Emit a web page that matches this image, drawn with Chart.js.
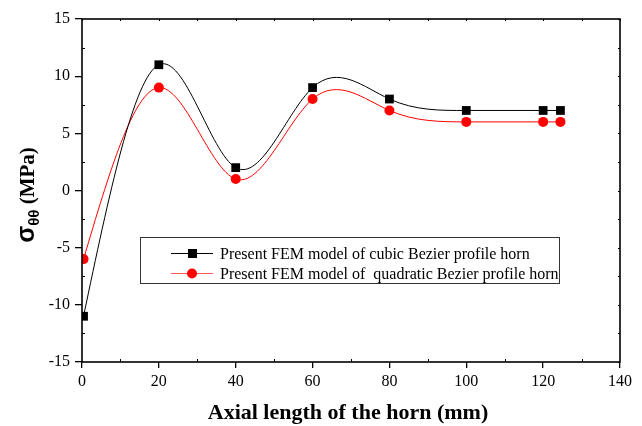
<!DOCTYPE html>
<html>
<head>
<meta charset="utf-8">
<script src="https://cdn.jsdelivr.net/npm/chart.js@4.4.1/dist/chart.umd.min.js"></script>
<style>
  html, body { margin: 0; padding: 0; background: #fff; }
  #wrap { width: 642px; height: 426px; position: relative; }
</style>
</head>
<body>
<div id="wrap"><canvas id="c" width="642" height="426"></canvas></div>
<script>
// Axial positions along the horn (mm)
const axialPos = [0.4, 20, 40, 60, 80, 100, 120, 124.5];
// Hoop stress sigma_theta_theta (MPa) for each profile
const cubicStress = [-11, 11, 2, 9, 8, 7, 7, 7];
const quadraticStress = [-6, 9, 1, 8, 7, 6, 6, 6];
const seriesNames = [
  'Present FEM model of cubic Bezier profile horn',
  'Present FEM model of  quadratic Bezier profile horn'
];
// Axis tick labels
const xTicks = [0, 20, 40, 60, 80, 100, 120, 140];
const yTicks = [-15, -10, -5, 0, 5, 10, 15];
const xTitle = 'Axial length of the horn (mm)';

const SERIF = '"Liberation Serif", "Times New Roman", serif';
const SANS = '"Liberation Sans", Arial, sans-serif';

// Natural cubic spline slopes at each knot (value space)
function splineSlopes(xs, ys) {
  const n = xs.length;
  const h = [], a = [], b = [], c = [], d = [];
  for (let i = 0; i < n - 1; i++) h.push(xs[i + 1] - xs[i]);
  for (let i = 0; i < n; i++) {
    if (i === 0 || i === n - 1) { a.push(0); b.push(1); c.push(0); d.push(0); continue; }
    a.push(h[i - 1]);
    b.push(2 * (h[i - 1] + h[i]));
    c.push(h[i]);
    d.push(6 * ((ys[i + 1] - ys[i]) / h[i] - (ys[i] - ys[i - 1]) / h[i - 1]));
  }
  // Thomas algorithm
  const cp = [], dp = [];
  cp[0] = c[0] / b[0]; dp[0] = d[0] / b[0];
  for (let i = 1; i < n; i++) {
    const m = b[i] - a[i] * cp[i - 1];
    cp[i] = c[i] / m;
    dp[i] = (d[i] - a[i] * dp[i - 1]) / m;
  }
  const M = new Array(n);
  M[n - 1] = dp[n - 1];
  for (let i = n - 2; i >= 0; i--) M[i] = dp[i] - cp[i] * M[i + 1];
  const s = [];
  for (let i = 0; i < n - 1; i++) {
    s.push((ys[i + 1] - ys[i]) / h[i] - h[i] * (2 * M[i] + M[i + 1]) / 6);
  }
  const k = n - 2;
  s.push((ys[k + 1] - ys[k]) / h[k] + h[k] * (M[k] + 2 * M[k + 1]) / 6);
  return s;
}

// Replace the default bezier handles with those of a natural cubic spline
const splinePlugin = {
  id: 'naturalSpline',
  beforeDatasetDraw(chart, args) {
    const meta = args.meta;
    const line = meta.dataset;
    if (!line) return;
    if (line.updateControlPoints) line.updateControlPoints(chart.chartArea, 'x');
    const ds = chart.data.datasets[args.index];
    const xs = ds.data.map(p => p.x);
    const ys = ds.data.map(p => p.y);
    const s = splineSlopes(xs, ys);
    const xS = chart.scales.x, yS = chart.scales.y;
    const pts = meta.data;
    for (let i = 0; i < pts.length; i++) {
      const p = pts[i];
      if (i > 0) {
        const h = xs[i] - xs[i - 1];
        p.cp1x = xS.getPixelForValue(xs[i] - h / 3);
        p.cp1y = yS.getPixelForValue(ys[i] - s[i] * h / 3);
      } else { p.cp1x = p.x; p.cp1y = p.y; }
      if (i < pts.length - 1) {
        const h = xs[i + 1] - xs[i];
        p.cp2x = xS.getPixelForValue(xs[i] + h / 3);
        p.cp2y = yS.getPixelForValue(ys[i] + s[i] * h / 3);
      } else { p.cp2x = p.x; p.cp2y = p.y; }
    }
    line._pointsUpdated = true;
    line._path = undefined;
  }
};

// Frame, minor ticks, axis titles and the boxed legend
const decorPlugin = {
  id: 'decor',
  afterDraw(chart) {
    const ctx = chart.ctx;
    const a = chart.chartArea;
    const xS = chart.scales.x, yS = chart.scales.y;
    ctx.save();
    ctx.strokeStyle = '#000';
    ctx.lineWidth = 1.6;
    ctx.strokeRect(a.left, a.top, a.right - a.left, a.bottom - a.top);

    ctx.lineWidth = 1;
    ctx.beginPath();
    for (let v = 10; v < 140; v += 20) {
      const x = Math.round(xS.getPixelForValue(v)) + 0.5;
      ctx.moveTo(x, a.bottom); ctx.lineTo(x, a.bottom - 3);
    }
    for (let v = 0; v <= 140; v += 10) {
      const x = Math.round(xS.getPixelForValue(v)) + 0.5;
      ctx.moveTo(x, a.top); ctx.lineTo(x, a.top + 2);
    }
    for (let v = -12.5; v < 15; v += 5) {
      const y = Math.round(yS.getPixelForValue(v)) + 0.5;
      ctx.moveTo(a.left, y); ctx.lineTo(a.left + 3, y);
    }
    for (let v = -15; v <= 15; v += 2.5) {
      const y = Math.round(yS.getPixelForValue(v)) + 0.5;
      ctx.moveTo(a.right, y); ctx.lineTo(a.right - 2, y);
    }
    ctx.stroke();

    // x title
    ctx.fillStyle = '#000';
    ctx.font = 'bold 22px ' + SERIF;
    ctx.textAlign = 'center';
    ctx.textBaseline = 'alphabetic';
    ctx.fillText(xTitle, 348, 419);

    // y title: sigma with theta-theta subscript, then units
    ctx.save();
    ctx.translate(34, 195);
    ctx.rotate(-Math.PI / 2);
    const f1 = 'bold 25px ' + SANS, f2 = 'bold 15px ' + SANS, f3 = 'bold 21px ' + SERIF;
    ctx.font = f1; const w1 = ctx.measureText('σ').width;
    ctx.font = f2; const w2 = ctx.measureText('θθ').width;
    ctx.font = f3; const w3 = ctx.measureText(' (MPa)').width;
    let x0 = -(w1 + w2 + w3) / 2;
    ctx.textAlign = 'left';
    ctx.font = f1; ctx.fillText('σ', x0, 0); x0 += w1;
    ctx.font = f2; ctx.fillText('θθ', x0, 5); x0 += w2;
    ctx.font = f3; ctx.fillText(' (MPa)', x0, 0);
    ctx.restore();

    // legend
    ctx.lineWidth = 1;
    ctx.strokeStyle = '#333';
    ctx.strokeRect(140.5, 237.5, 419, 46);
    const rows = [
      { y: 253.5, color: '#000', line: '#000', style: 'rect' },
      { y: 273.5, color: '#ff0000', line: '#ff5a5a', style: 'circle' }
    ];
    ctx.font = '16px ' + SERIF;
    ctx.textAlign = 'left';
    ctx.textBaseline = 'middle';
    rows.forEach((r, i) => {
      ctx.strokeStyle = r.line;
      ctx.beginPath(); ctx.moveTo(171, r.y); ctx.lineTo(213, r.y); ctx.stroke();
      ctx.fillStyle = r.color;
      if (r.style === 'rect') ctx.fillRect(188, r.y - 4.5, 9, 9);
      else { ctx.beginPath(); ctx.arc(192, r.y, 5, 0, Math.PI * 2); ctx.fill(); }
      ctx.fillStyle = '#000';
      ctx.fillText(seriesNames[i], 220, r.y + 1);
    });
    ctx.restore();
  }
};

new Chart(document.getElementById('c'), {
  type: 'line',
  data: {
    datasets: [
      {
        label: seriesNames[0],
        data: axialPos.map((x, i) => ({ x, y: cubicStress[i] })),
        borderColor: '#000', backgroundColor: '#000', borderWidth: 1,
        pointStyle: 'rect', pointRadius: 6.2, pointBorderWidth: 0,
        tension: 0.4, fill: false
      },
      {
        label: seriesNames[1],
        data: axialPos.map((x, i) => ({ x, y: quadraticStress[i] })),
        borderColor: '#ff0000', backgroundColor: '#ff0000', borderWidth: 1,
        pointStyle: 'circle', pointRadius: 5, pointBorderWidth: 0,
        tension: 0.4, fill: false
      }
    ]
  },
  options: {
    responsive: false,
    animation: false,
    layout: { padding: { left: 0, right: 22, top: 19, bottom: 0 } },
    plugins: { legend: { display: false }, tooltip: { enabled: false } },
    scales: {
      x: {
        type: 'linear', min: 0, max: 140,
        afterBuildTicks: s => { s.ticks = xTicks.map(v => ({ value: v })); },
        afterFit: s => { s.height = 64; },
        grid: { drawOnChartArea: false, drawTicks: true, tickLength: 6, color: '#000', lineWidth: 1.3 },
        border: { display: false },
        ticks: { color: '#000', font: { family: SERIF, size: 16 }, padding: 4, maxRotation: 0 }
      },
      y: {
        type: 'linear', min: -15, max: 15,
        afterBuildTicks: s => { s.ticks = yTicks.map(v => ({ value: v })); },
        afterFit: s => { s.width = 82; },
        grid: { drawOnChartArea: false, drawTicks: true, tickLength: 7, color: '#000', lineWidth: 1.3 },
        border: { display: false },
        ticks: { color: '#000', font: { family: SERIF, size: 16 }, padding: 5 }
      }
    }
  },
  plugins: [splinePlugin, decorPlugin]
});
</script>
</body>
</html>
